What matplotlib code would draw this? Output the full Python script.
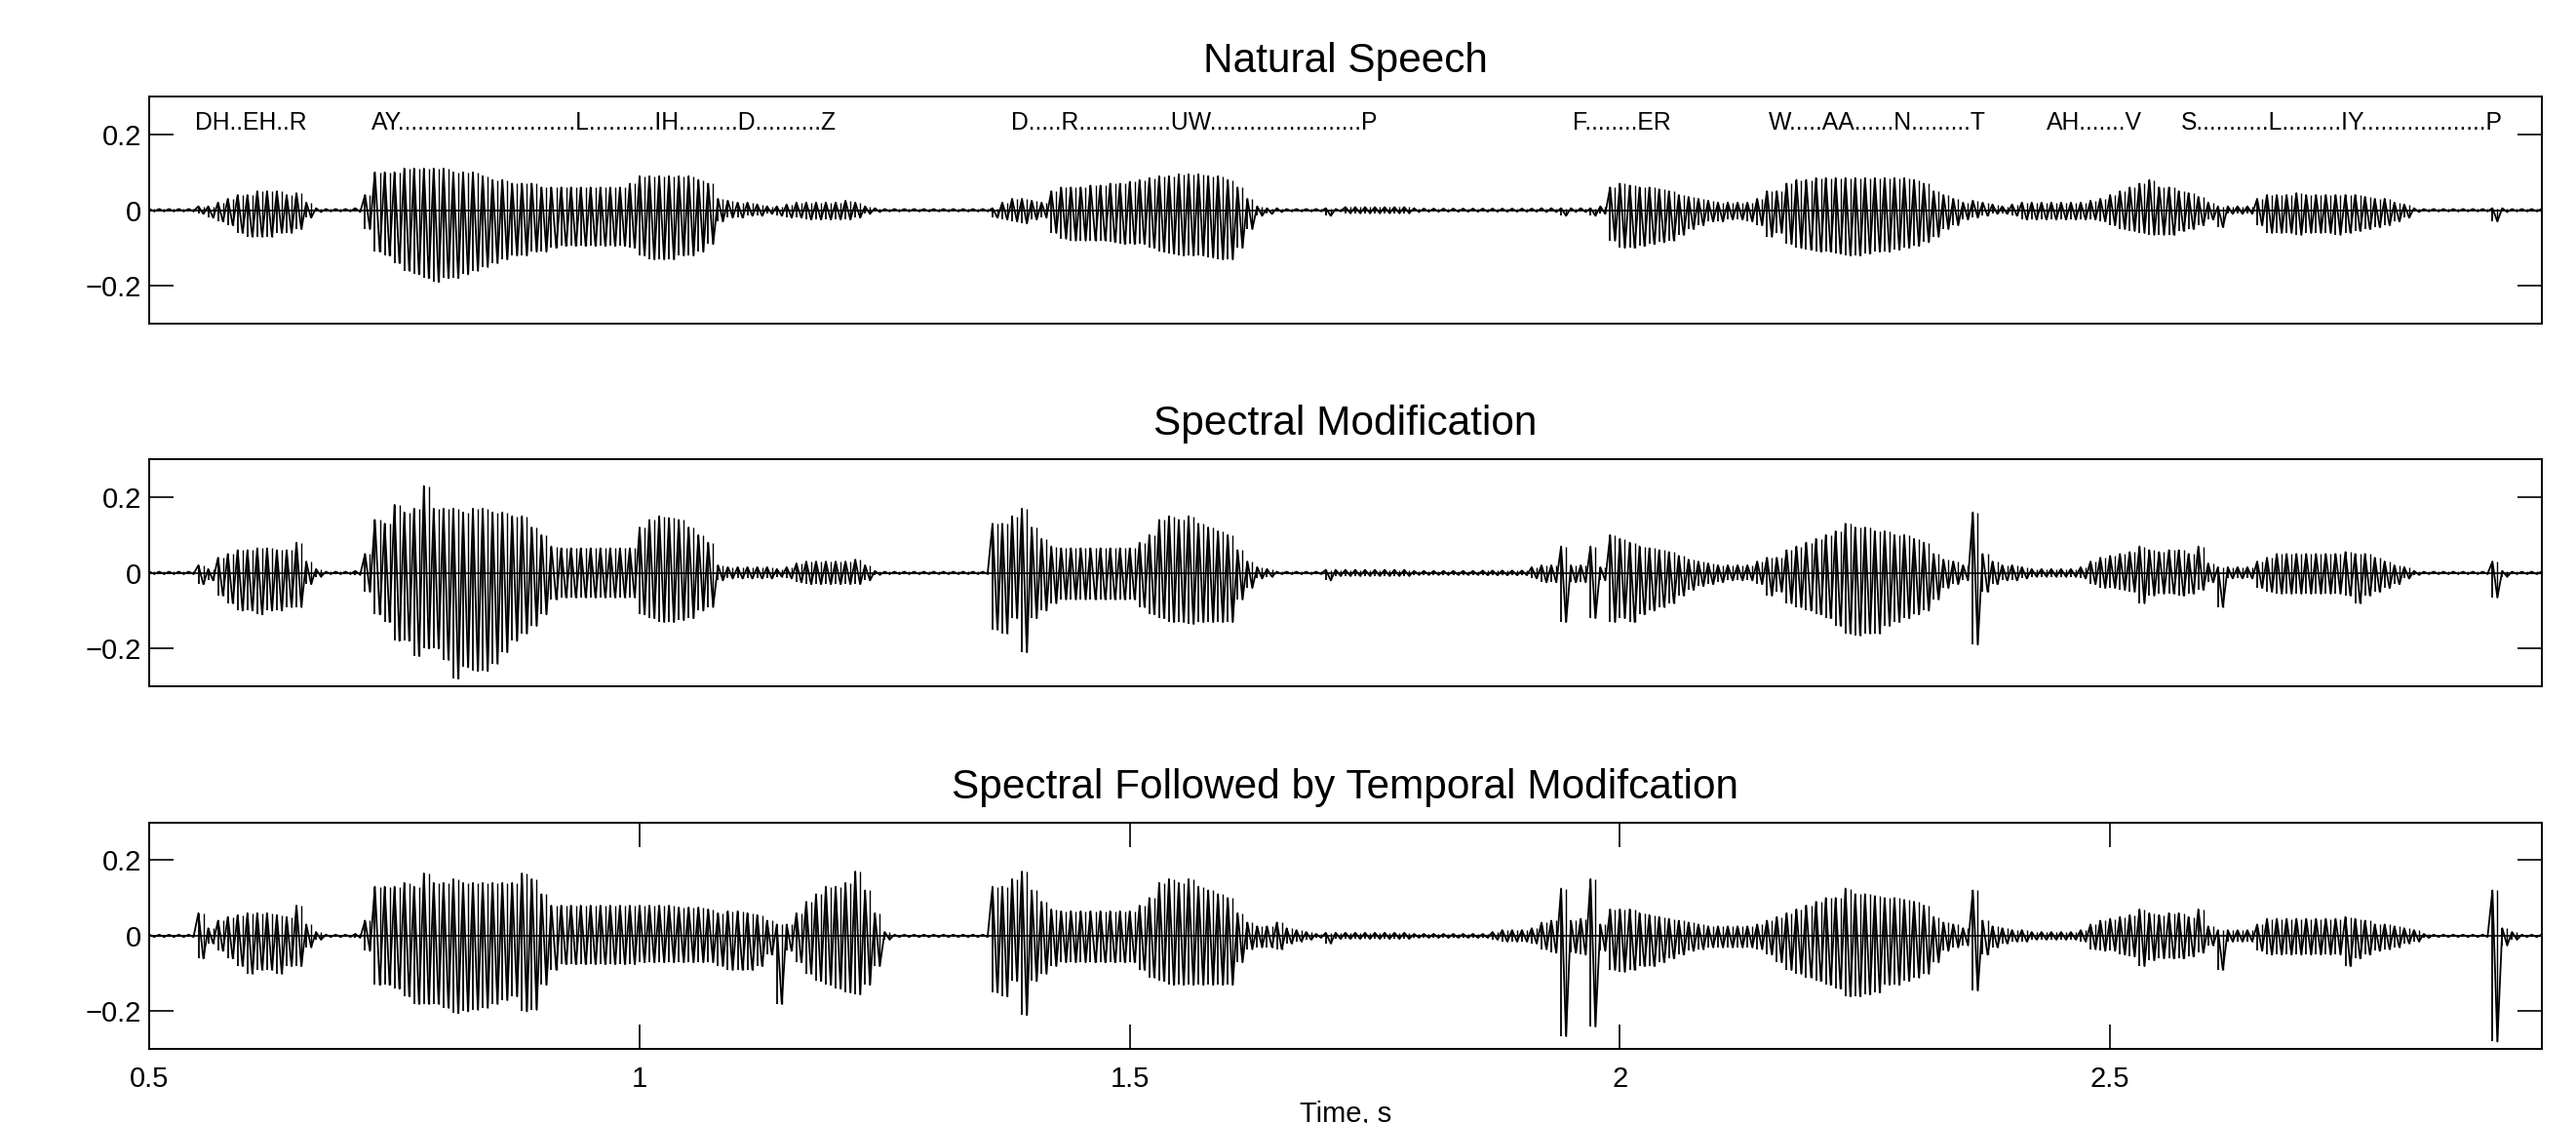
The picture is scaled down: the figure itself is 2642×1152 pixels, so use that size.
#! /usr/bin/env python3
import matplotlib
matplotlib.use("Agg")
import matplotlib.pyplot as plt
import numpy as np

plt.rcParams['font.family'] = ['Liberation Sans', 'DejaVu Sans']

# waveform envelopes, one value every 10 ms from 0.50 s,
# in hundredths of full scale (upper peak / lower peak)
t_start = 0.50
t_step = 0.01

natural_up = [
    0.3, 0.3, 0.3, 0.3, 0.3, 1, 1, 2, 3, 4,
    4, 5, 5, 5, 4, 4.5, 2, 0.5, 0.3, 0.3,
    0.3, 0.5, 4, 10, 10, 10, 11, 11, 11, 11,
    11, 10, 10, 10, 9, 8, 8, 7, 7, 7,
    6, 6, 6, 6, 6, 6, 6, 6, 6, 7,
    9, 9, 9, 9, 9, 9, 8, 7, 3, 2.5,
    2, 2, 1.5, 1, 1, 1.5, 2, 2, 2, 2,
    2, 2.5, 2, 1, 0.5, 0.3, 0.3, 0.3, 0.3, 0.3,
    0.3, 0.3, 0.3, 0.3, 0.3, 0.3, 0.5, 2, 3, 3,
    2.5, 2, 5, 6, 6, 6, 6.5, 6.5, 7, 7,
    7.5, 8, 8.5, 9, 9, 9.5, 9.5, 9.5, 9, 9,
    8, 6, 3, 1, 0.5, 0.5, 0.3, 0.3, 0.3, 0.3,
    0.5, 0.3, 0.8, 0.8, 0.8, 0.8, 0.8, 0.8, 0.8, 0.5,
    0.4, 0.4, 0.4, 0.4, 0.4, 0.4, 0.4, 0.4, 0.4, 0.4,
    0.4, 0.4, 0.5, 0.5, 0.5, 0.5, 0.5, 0.5, 1, 6,
    7, 6.5, 6, 6, 5.5, 5, 4, 3.5, 3, 2.5,
    2, 2, 2, 2, 3, 5, 5, 7, 8, 8,
    8.5, 8.5, 8.5, 8.5, 8.5, 8.5, 8.5, 8.5, 8.5, 8.5,
    8, 7, 5, 4, 3, 2, 2.5, 2, 1.5, 1,
    1.5, 2, 2, 2, 2, 2, 2, 2, 2.5, 3,
    4, 5, 6, 7, 8, 6, 6, 5, 4.5, 3.5,
    2, 1, 1, 1, 1, 3, 4, 4, 4, 4.5,
    4, 4, 4, 4, 4, 4, 3.5, 3, 3, 2,
    1.5, 0.5, 0.3, 0.3, 0.3, 0.3, 0.3, 0.3, 0.3, 0.5,
    0.5, 0.3, 0.3, 0.3, 0.3,
]
natural_lo = [
    -0.3, -0.3, -0.3, -0.3, -0.3, -1, -2, -3, -4, -6,
    -7, -7, -7, -6, -6, -5, -2, -0.5, -0.3, -0.3,
    -0.3, -0.5, -5, -11, -12, -14, -16, -17, -18, -19,
    -18, -18, -17, -16, -15, -14, -13, -12, -12, -11,
    -11, -10, -9.5, -9.5, -9.5, -9.5, -9.5, -9.5, -9.5, -10,
    -12, -13, -13, -13, -12, -12, -11, -9, -3, -2,
    -2, -1.5, -1.5, -1, -1.5, -2, -2, -2.5, -2.5, -2.5,
    -2.5, -2.5, -2, -1, -0.5, -0.3, -0.3, -0.3, -0.3, -0.3,
    -0.3, -0.3, -0.3, -0.3, -0.3, -0.3, -2, -2.5, -3, -3.5,
    -2.5, -2, -6, -7.5, -8, -8, -8, -8, -8.5, -9,
    -9, -9, -10, -11, -11.5, -12, -12, -12, -12.5, -13,
    -13, -10, -5, -1.5, -1, -0.5, -0.3, -0.3, -0.3, -0.3,
    -1.5, -0.3, -0.8, -0.8, -0.8, -0.8, -0.8, -0.8, -0.8, -0.5,
    -0.4, -0.4, -0.4, -0.4, -0.4, -0.4, -0.4, -0.4, -0.4, -0.4,
    -0.4, -0.4, -0.5, -0.5, -1.5, -0.5, -0.5, -1.5, -1, -8,
    -10, -10, -9.5, -9, -8.5, -8, -6.5, -5, -4, -3,
    -3, -2.5, -2.5, -3, -4, -7, -6, -9, -10, -10.5,
    -11, -11, -11.5, -12, -12, -11.5, -11, -11, -10.5, -10,
    -9.5, -8.5, -7, -5, -4, -2.5, -2, -1.5, -1, -1,
    -1.5, -2.5, -2.5, -2.5, -2.5, -2.5, -2.5, -2.5, -2.5, -3,
    -4, -5, -5.5, -6, -6.5, -6.5, -6.5, -5.5, -5, -4,
    -2.5, -4.5, -1, -1, -1, -4, -6, -6, -6, -6.5,
    -6, -6, -6, -6.5, -6, -5.5, -5, -4.5, -4, -3,
    -2, -0.5, -0.3, -0.3, -0.3, -0.3, -0.3, -0.3, -0.3, -3,
    -0.5, -0.3, -0.3, -0.3, -0.3,
]

spectral_up = [
    0.3, 0.3, 0.3, 0.3, 0.3, 2, 1, 4, 5, 6,
    6, 6.5, 6.5, 6, 6, 8, 3, 1, 0.3, 0.3,
    0.3, 0.5, 5, 14, 13, 18, 16, 17, 23, 17,
    17, 17, 16, 17, 17, 16, 16, 15, 15, 12,
    10, 7, 6.5, 6.5, 6.5, 6.5, 6.5, 6.5, 6.5, 6.5,
    12, 14, 15, 14.5, 14, 12, 10, 8, 2, 1.5,
    1.5, 1.5, 1.5, 1.5, 1, 1.5, 2.5, 3, 3, 3,
    3, 3, 3.5, 2, 0.5, 0.3, 0.3, 0.3, 0.3, 0.3,
    0.3, 0.3, 0.3, 0.3, 0.3, 0.3, 13, 13, 15, 17,
    12, 9, 7, 6.5, 6.5, 6.5, 6.5, 6.5, 6.5, 6.5,
    6.5, 8, 10, 14, 15, 14, 15, 13, 12, 11,
    10, 6, 3, 1.5, 1, 0.3, 0.3, 0.3, 0.3, 0.3,
    0.8, 0.8, 0.8, 0.8, 0.8, 0.8, 0.8, 0.8, 0.8, 0.5,
    0.5, 0.5, 0.5, 0.5, 0.5, 0.5, 0.6, 0.6, 0.6, 0.6,
    0.6, 1.5, 2, 2, 7, 2, 2, 7, 1.5, 10,
    9, 8, 7, 6.5, 6, 5.5, 4.5, 3.5, 3, 2.5,
    2, 2, 2, 2, 3, 4, 4, 6, 7, 8,
    9, 10, 11, 13, 12, 12, 11, 11, 10, 10,
    9, 8, 5, 3.5, 3, 2, 16, 5, 3, 2,
    2, 1.5, 1, 1, 1, 1, 1, 1.5, 3, 4,
    4.5, 5, 5.5, 7, 6, 5.5, 6, 6, 5, 7,
    2.5, 1.5, 1.5, 1.5, 1.5, 3, 4, 5, 5, 5,
    5, 5, 5, 5, 5.5, 5, 5, 4, 3, 2,
    1.5, 0.5, 0.3, 0.3, 0.3, 0.3, 0.3, 0.3, 0.3, 3,
    0.5, 0.3, 0.3, 0.3, 0.3,
]
spectral_lo = [
    -0.3, -0.3, -0.3, -0.3, -0.3, -3, -2, -6, -8, -10,
    -10, -11, -10, -10, -9, -9, -3, -1, -0.3, -0.3,
    -0.3, -0.5, -5, -11, -13, -18, -18, -22, -20, -20,
    -23, -28, -25, -26, -26, -24, -21, -18, -16, -14,
    -11, -7, -6.5, -6.5, -6.5, -6.5, -6.5, -6.5, -6.5, -6.5,
    -11, -12, -13, -13, -12.5, -12, -10, -9, -2, -1.5,
    -1.5, -1.5, -1.5, -1.5, -1, -1.5, -2.5, -3, -3, -3,
    -3, -3, -3, -2, -0.5, -0.3, -0.3, -0.3, -0.3, -0.3,
    -0.3, -0.3, -0.3, -0.3, -0.3, -0.3, -15, -16, -12, -21,
    -12, -10, -8, -7, -7, -7, -7, -7, -7, -7,
    -7, -9, -11, -12, -13, -13, -13.5, -13, -13, -13,
    -13, -7, -4, -1.5, -1, -0.3, -0.3, -0.3, -0.3, -0.3,
    -2, -0.8, -0.8, -0.8, -0.8, -0.8, -0.8, -0.8, -0.8, -0.5,
    -0.5, -0.5, -0.5, -0.5, -0.5, -0.5, -0.6, -0.6, -0.6, -0.6,
    -0.6, -1.5, -2.5, -2.5, -13, -2.5, -2.5, -12, -2, -13,
    -12, -13, -11, -10, -9, -8, -6, -4.5, -3.5, -3,
    -2.5, -2, -2, -2, -3, -6, -5, -8, -9, -10,
    -11, -12, -14, -16, -16.5, -16, -16, -14, -13, -12,
    -11, -10, -7, -4, -3, -2, -19, -5, -3, -2,
    -2, -1.5, -1, -1, -1, -1, -1, -1.5, -3, -4,
    -4, -4.5, -5, -8, -6, -5.5, -5.5, -6, -5.5, -4.5,
    -2.5, -9, -1.5, -1.5, -1.5, -4, -5, -5.5, -5.5, -5.5,
    -5.5, -5.5, -5.5, -5.5, -6, -8, -6, -5, -4, -3,
    -1.5, -0.5, -0.3, -0.3, -0.3, -0.3, -0.3, -0.3, -0.3, -6.5,
    -1, -0.3, -0.3, -0.3, -0.3,
]

temporal_up = [
    0.3, 0.3, 0.3, 0.3, 0.3, 6, 2, 4, 5, 5.5,
    6, 6, 6, 5.5, 5, 8, 3, 1, 0.3, 0.3,
    0.3, 0.5, 4, 13, 13, 13, 14, 13, 16.5, 14,
    14, 15, 14, 14, 14, 14, 14, 14, 16.5, 15,
    11, 8, 8, 8, 8, 8, 8, 8, 8, 8,
    8, 8, 8, 8, 7.5, 7.5, 7.5, 7, 6, 6.5,
    6.5, 6, 5.5, 4, 3, 3, 6, 9, 11, 13,
    13, 14, 17, 12, 6, 1, 0.3, 0.3, 0.3, 0.3,
    0.3, 0.3, 0.3, 0.3, 0.3, 0.3, 13, 13, 15, 17,
    12, 9, 7, 6.5, 6.5, 6.5, 6.5, 6.5, 6.5, 6.5,
    6.5, 8, 10, 14, 15, 14, 15, 13, 12, 11,
    10, 6, 3.5, 2.5, 2.5, 3.5, 2, 1.5, 1, 0.5,
    0.8, 0.8, 0.8, 0.8, 0.8, 0.8, 0.8, 0.8, 0.8, 0.5,
    0.5, 0.5, 0.5, 0.5, 0.5, 0.5, 0.5, 1, 1.5, 1.5,
    1.5, 2, 3.5, 4, 12.5, 4, 4.5, 15, 3, 7,
    7, 7, 6, 5.5, 5, 4.5, 4, 3.5, 3, 2.5,
    2.5, 2.5, 2.5, 2.5, 3, 4, 5, 6, 7, 8,
    9, 10, 10, 12.5, 11, 11, 10.5, 10, 10, 9.5,
    9, 8, 5, 3.5, 3, 2, 12, 4, 2.5, 2,
    1.5, 1.5, 1, 1, 1, 1, 1, 1.5, 3, 4,
    4.5, 5, 5.5, 7, 6, 5.5, 6, 6, 5, 7,
    2.5, 1.5, 1.5, 1.5, 1.5, 3, 4.5, 4.5, 4.5, 4.5,
    4.5, 4.5, 4.5, 4.5, 5, 4.5, 4, 3, 3, 2.5,
    2, 1.5, 0.5, 0.3, 0.3, 0.3, 0.3, 0.3, 0.3, 12,
    2, 1, 0.3, 0.3, 0.3,
]
temporal_lo = [
    -0.3, -0.3, -0.3, -0.3, -0.3, -6, -2, -4, -6, -8,
    -10, -9, -9, -10, -8, -8, -3, -1, -0.3, -0.3,
    -0.3, -0.5, -4, -13, -13, -14, -16, -18, -18, -18,
    -19, -20.5, -20, -19.5, -19, -18, -17, -16, -20, -19.5,
    -13, -9, -7.5, -7.5, -7.5, -7.5, -7.5, -7.5, -7.5, -7.5,
    -7, -7, -7, -7, -7, -7, -7, -7, -8, -9,
    -9, -9, -8, -5, -18, -4, -7, -10, -12, -13,
    -14, -15, -15.5, -13, -8, -1, -0.3, -0.3, -0.3, -0.3,
    -0.3, -0.3, -0.3, -0.3, -0.3, -0.3, -15, -16, -12, -21,
    -12, -10, -8, -7, -7, -7, -7, -7, -7, -7,
    -7, -9, -11, -12, -13, -13, -13, -13, -13, -13,
    -13, -7, -3.5, -3, -3, -3.5, -2, -1.5, -1, -0.5,
    -2, -0.8, -0.8, -0.8, -0.8, -0.8, -0.8, -0.8, -0.8, -0.5,
    -0.5, -0.5, -0.5, -0.5, -0.5, -0.5, -0.5, -1, -1.5, -1.5,
    -1.5, -2, -3.5, -4.5, -26.5, -4.5, -5, -24, -4, -9,
    -9.5, -9, -8, -8, -7, -6, -5, -4, -3.5, -3,
    -3, -3, -3, -3, -3.5, -5, -7, -9, -10, -11,
    -12, -13, -14, -16, -16, -15.5, -15, -13, -13, -12,
    -11, -10, -7, -4, -3, -2.5, -14.5, -5, -3, -2,
    -1.5, -1.5, -1, -1, -1, -1, -1, -1.5, -3.5, -4,
    -4, -5, -5.5, -8, -6.5, -6, -6, -6, -5.5, -4.5,
    -2.5, -9, -1.5, -1.5, -1.5, -4, -5, -5, -5, -5,
    -5, -5, -5, -5, -8, -6, -5, -4, -3.5, -3,
    -2, -1.5, -0.5, -0.3, -0.3, -0.3, -0.3, -0.3, -0.3, -28,
    -2.5, -1, -0.3, -0.3, -0.3,
]

titles = ["Natural Speech", "Spectral Modification",
          "Spectral Followed by Temporal Modifcation"]

phonemes = [
    "DH..EH..R",
    "AY" + "." * 27 + "L" + "." * 10 + "IH" + "." * 9 + "D" + "." * 10 + "Z",
    "D" + "." * 5 + "R" + "." * 14 + "UW" + "." * 23 + "P",
    "F" + "." * 8 + "ER",
    "W" + "." * 5 + "AA" + "." * 6 + "N" + "." * 9 + "T",
    "AH" + "." * 7 + "V",
    "S" + "." * 11 + "L" + "." * 9 + "IY" + "." * 19 + "P",
]
phoneme_times = [0.547, 0.726, 1.379, 1.952, 2.152, 2.435, 2.572]

yticks = [-0.2, 0, 0.2]
ytick_labels = ["\u22120.2", "0", "0.2"]
xticks = [0.5, 1, 1.5, 2, 2.5]
xtick_labels = ["0.5", "1", "1.5", "2", "2.5"]

signals = [(natural_up, natural_lo), (spectral_up, spectral_lo),
           (temporal_up, temporal_lo)]

fig = plt.figure(figsize=(26.42, 11.52), dpi=100)
bottoms = [0.712, 0.389, 0.0658]

for i, (up, lo) in enumerate(signals):
    ax = fig.add_axes([0.058, bottoms[i], 0.9286, 0.2018])
    up = np.array(up) / 100.0
    lo = np.array(lo) / 100.0
    t = t_start + t_step * np.arange(len(up))
    # zigzag: upper peak at each sample, lower peak half a step later
    xs = np.column_stack([t, t + t_step / 2]).ravel()
    ys = np.column_stack([up, lo]).ravel()
    ax.plot(xs, ys, color='black', lw=1.3)
    # vertical strokes at both peaks of every sample
    ax.vlines(t, lo, up, color='black', lw=1.3)
    ax.vlines(t + t_step / 2, lo, up, color='black', lw=1.0)
    ax.plot([t[0], t[-1]], [0, 0], color='black', lw=1.2)

    ax.set_xlim(0.5, 2.94)
    ax.set_ylim(-0.3, 0.3)
    ax.set_yticks(yticks)
    ax.set_yticklabels(ytick_labels)
    ax.tick_params(axis='y', direction='in', length=18, width=1.2,
                   left=True, right=True, labelsize=21, pad=6)
    if i == 2:
        ax.set_xticks(xticks)
        ax.set_xticklabels(xtick_labels)
        ax.tick_params(axis='x', direction='in', length=18, width=1.2,
                       top=True, bottom=True, labelsize=21, pad=12)
        ax.set_xlabel('Time, s', fontsize=21, labelpad=6)
    else:
        ax.set_xticks([])
    for s in ax.spines.values():
        s.set_linewidth(1.4)
    ax.set_title(titles[i], fontsize=30.5, pad=18)

    if i == 0:
        for txt, x in zip(phonemes, phoneme_times):
            ax.text(x, 0.23, txt, fontsize=17.8, ha='left', va='center')

fig.savefig('out.png', dpi=100)
